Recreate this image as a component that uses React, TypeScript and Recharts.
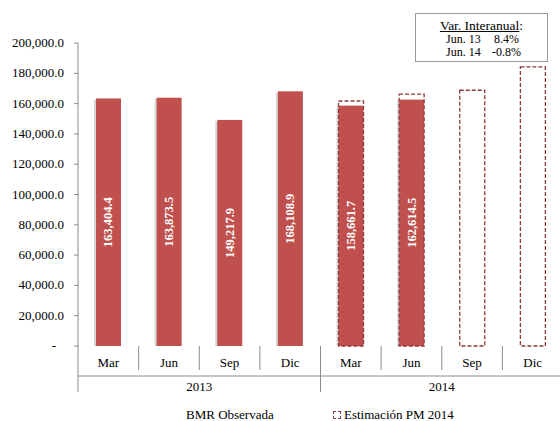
import React from 'react'
import { BarChart, Bar, XAxis, YAxis, LabelList } from 'recharts'

const months = ['Mar', 'Jun', 'Sep', 'Dic', 'Mar', 'Jun', 'Sep', 'Dic']
const years = ['2013', '2013', '2013', '2013', '2014', '2014', '2014', '2014']
const observed = [163404.4, 163873.5, 149217.9, 168108.9, 158661.7, 162614.5, null, null]
const estimate = [null, null, null, null, 161700, 166200, 168800, 184200]
const yTicks = [0, 20000, 40000, 60000, 80000, 100000, 120000, 140000, 160000, 180000, 200000]
const varRows = [
  ['Jun. 13', '8.4%'],
  ['Jun. 14', '-0.8%'],
]

const data = months.map((m, i) => ({
  key: `${m}-${years[i]}`,
  month: m,
  year: years[i],
  obs: observed[i],
  est: estimate[i],
}))

const FONT = 'Liberation Serif, DejaVu Serif, serif'
const AXIS_Y = 346
const RED = '#c0504d'
const DASH = '#8c3a3a'
const GRID = '#8c8c8c'

const fmt = (v: number) =>
  v.toLocaleString('en-US', { minimumFractionDigits: 1, maximumFractionDigits: 1 })

function YTick(props: any) {
  const { x, y, payload } = props
  const isZero = payload.value === 0
  return (
    <text
      x={isZero ? x - 8 : x}
      y={y}
      dy={4}
      textAnchor="end"
      style={{ fontFamily: FONT, fontSize: 13 }}
      fill="#000"
    >
      {isZero ? '-' : fmt(payload.value)}
    </text>
  )
}

function MonthTick(props: any) {
  const { x, payload, index } = props
  const half = payload.offset ?? 30.3
  const d = data[index]
  const right = x + half
  const left = x - half
  const yearEnd = index === 3 || index === 7
  return (
    <g>
      <text x={x} y={AXIS_Y + 21} textAnchor="middle" style={{ fontFamily: FONT, fontSize: 13 }} fill="#000">
        {d ? d.month : payload.value}
      </text>
      {index === 0 && <line x1={left} x2={left} y1={AXIS_Y} y2={AXIS_Y + 46} stroke={GRID} />}
      <line x1={right} x2={right} y1={AXIS_Y} y2={yearEnd ? AXIS_Y + 46 : AXIS_Y + 24} stroke={GRID} />
      {(index === 1 || index === 5) && (
        <text x={right} y={AXIS_Y + 45} textAnchor="middle" style={{ fontFamily: FONT, fontSize: 13 }} fill="#000">
          {d.year}
        </text>
      )}
    </g>
  )
}

function ObsShape(props: any) {
  const { x, y, width, height } = props
  if (!height || height <= 0) return null
  return (
    <g>
      <rect x={x - 2} y={y + 1} width={width} height={height - 1} fill="#d6d6d6" />
      <rect x={x} y={y} width={width} height={height} fill={RED} />
    </g>
  )
}

function BarLabel(props: any) {
  const { x, y, width, height, value } = props
  if (value == null) return null
  const cx = x + width / 2
  const cy = y + height / 2
  return (
    <text
      x={cx}
      y={cy}
      transform={`rotate(-90, ${cx}, ${cy})`}
      textAnchor="middle"
      dominantBaseline="central"
      style={{ fontFamily: FONT, fontSize: 12.5, fontWeight: 'bold' }}
      fill="#fff"
    >
      {fmt(value)}
    </text>
  )
}

export default function App() {
  return (
    <div
      style={{
        position: 'absolute',
        left: 0,
        top: 0,
        width: 560,
        height: 421,
        overflow: 'hidden',
        background: '#fff',
        fontFamily: FONT,
      }}
    >
      <BarChart width={570} height={421} data={data} margin={{ top: 43, right: 7, left: 0, bottom: 0 }}>
        <XAxis
          xAxisId="main"
          dataKey="key"
          height={75}
          axisLine={{ stroke: GRID }}
          tickLine={false}
          tick={<MonthTick />}
          interval={0}
        />
        <XAxis xAxisId="est" dataKey="key" hide />
        <YAxis
          domain={[0, 200000]}
          ticks={yTicks}
          width={78}
          axisLine={{ stroke: GRID }}
          tickLine={{ stroke: GRID }}
          tickSize={4}
          tickMargin={10}
          tick={<YTick />}
          interval={0}
        />
        <Bar xAxisId="main" dataKey="obs" barSize={25} shape={<ObsShape />} isAnimationActive={false}>
          <LabelList dataKey="obs" content={<BarLabel />} />
        </Bar>
        <Bar
          xAxisId="est"
          dataKey="est"
          barSize={25}
          fill="none"
          stroke={DASH}
          strokeWidth={1.3}
          strokeDasharray="4 2"
          isAnimationActive={false}
        />
      </BarChart>

      <div
        style={{
          position: 'absolute',
          left: 415,
          top: 13,
          width: 131,
          height: 47,
          border: '1px solid #9a9a9a',
          background: '#fff',
          fontSize: 12,
          color: '#000',
          lineHeight: '13px',
        }}
      >
        <div style={{ textAlign: 'center', fontSize: 13.5, marginTop: 4, lineHeight: '15px' }}>
          <span style={{ textDecoration: 'underline' }}>Var. Interanual</span>:
        </div>
        {varRows.map(([k, v]) => (
          <div key={k} style={{ display: 'flex', justifyContent: 'center', paddingLeft: 2 }}>
            <span style={{ width: 46, textAlign: 'left' }}>{k}</span>
            <span style={{ width: 27, textAlign: 'right' }}>{v}</span>
          </div>
        ))}
      </div>

      <div
        style={{
          position: 'absolute',
          left: 186,
          top: 407,
          fontSize: 13,
          color: '#000',
          whiteSpace: 'nowrap',
        }}
      >
        BMR Observada
      </div>
      <div
        style={{
          position: 'absolute',
          left: 333,
          top: 407,
          fontSize: 13,
          color: '#000',
          whiteSpace: 'nowrap',
          display: 'flex',
          alignItems: 'center',
        }}
      >
        <span
          style={{
            display: 'inline-block',
            width: 6,
            height: 6,
            border: `1px dashed ${DASH}`,
            marginRight: 3,
          }}
        />
        Estimación PM 2014
      </div>
    </div>
  )
}
